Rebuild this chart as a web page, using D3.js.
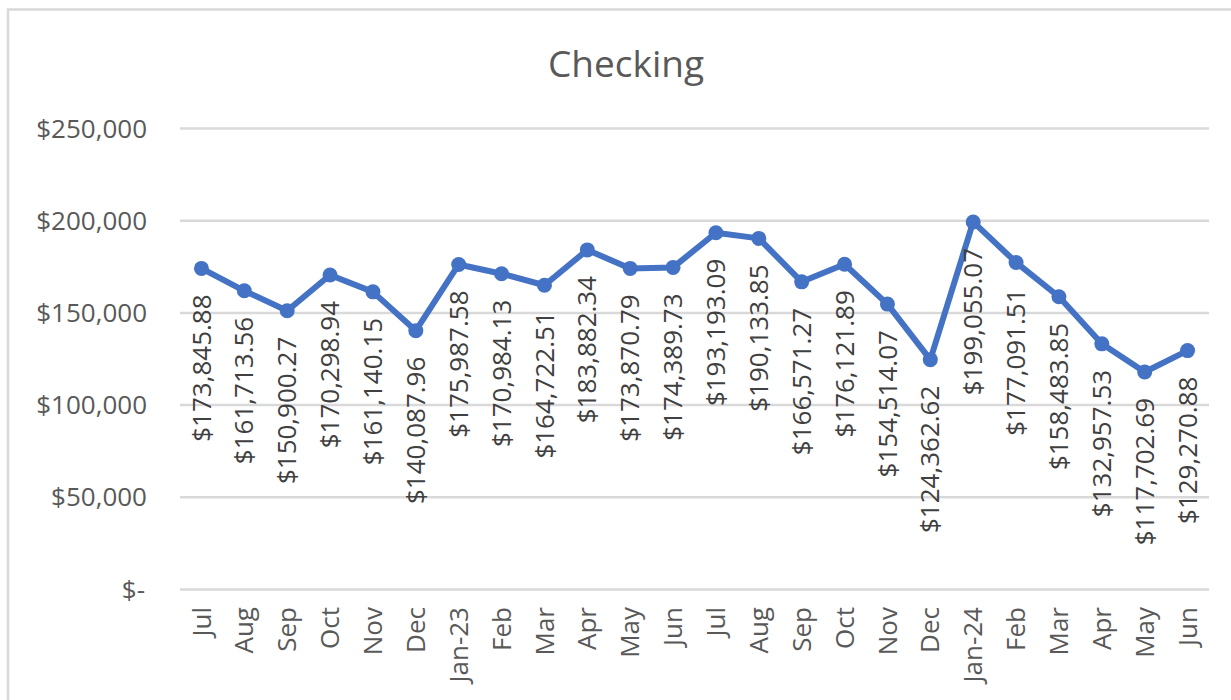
<!DOCTYPE html>
<html>
<head>
<meta charset="utf-8">
<script src="https://cdn.jsdelivr.net/npm/d3@7"></script>
<style>
  html, body { margin: 0; padding: 0; background: #ffffff; }
  svg { display: block; }
  text { font-family: "Open Sans", "Noto Sans", sans-serif; }
</style>
</head>
<body>
<svg id="chart" width="1231" height="700"></svg>
<script>
const title = "Checking";
const categories = ["Jul","Aug","Sep","Oct","Nov","Dec","Jan-23","Feb","Mar","Apr","May","Jun",
                    "Jul","Aug","Sep","Oct","Nov","Dec","Jan-24","Feb","Mar","Apr","May","Jun"];
const values = [173845.88, 161713.56, 150900.27, 170298.94, 161140.15, 140087.96, 175987.58, 170984.13,
                164722.51, 183882.34, 173870.79, 174389.73, 193193.09, 190133.85, 166571.27, 176121.89,
                154514.07, 124362.62, 199055.07, 177091.51, 158483.85, 132957.53, 117702.69, 129270.88];
const yTicks = [0, 50000, 100000, 150000, 200000, 250000];

const svg = d3.select("#chart");
const W = 1231, H = 700;
const plot = { left: 180, right: 1209, top: 128, bottom: 589 };

// frame
svg.append("rect")
  .attr("x", 8).attr("y", 9.5)
  .attr("width", 1240).attr("height", 720)
  .attr("fill", "#ffffff")
  .attr("stroke", "#d9d9d9").attr("stroke-width", 2.5);

const x = d3.scaleBand()
  .domain(d3.range(categories.length))
  .range([plot.left, plot.right])
  .padding(0);
const y = d3.scaleLinear().domain([0, 250000]).range([plot.bottom, plot.top]);
const cx = i => x(i) + x.bandwidth() / 2;

// gridlines
const yAxis = d3.axisLeft(y)
  .tickValues(yTicks)
  .tickSize(-(plot.right - plot.left))
  .tickPadding(33)
  .tickFormat(d => d === 0 ? "$-" : "$" + d3.format(",")(d));
const gy = svg.append("g").attr("transform", `translate(${plot.left},0)`).call(yAxis);
gy.select(".domain").remove();
gy.selectAll(".tick line").attr("stroke", "#d9d9d9").attr("stroke-width", 2.5);
gy.selectAll(".tick text")
  .attr("fill", "#595959")
  .attr("font-size", 26)
  .attr("dy", "0.35em")
  .attr("x", -33)
  .attr("dx", d => d === 0 ? -2 : 0);

// x axis labels
const xAxis = d3.axisBottom(x).tickSize(0).tickFormat(i => categories[i]);
const gx = svg.append("g").attr("transform", `translate(0,${plot.bottom})`).call(xAxis);
gx.select(".domain").remove();
gx.selectAll(".tick text")
  .attr("fill", "#595959")
  .attr("font-size", 26)
  .attr("text-anchor", "end")
  .attr("transform", "rotate(-90)")
  .attr("x", -18)
  .attr("y", 0)
  .attr("dy", "0.35em");

// line
const line = d3.line().x((d, i) => cx(i)).y(d => y(d));
svg.append("path")
  .datum(values)
  .attr("fill", "none")
  .attr("stroke", "#4472C4")
  .attr("stroke-width", 6)
  .attr("stroke-linejoin", "round")
  .attr("d", line);

svg.append("g").selectAll("circle")
  .data(values)
  .join("circle")
  .attr("cx", (d, i) => cx(i))
  .attr("cy", d => y(d))
  .attr("r", 7.5)
  .attr("fill", "#4472C4");

// data labels
svg.append("g").selectAll("text")
  .data(values)
  .join("text")
  .attr("transform", (d, i) => `translate(${cx(i)},${y(d) + 26}) rotate(-90)`)
  .attr("text-anchor", "end")
  .attr("dy", "0.35em")
  .attr("font-size", 26)
  .attr("fill", "#404040")
  .text(d => "$" + d3.format(",.2f")(d));

// title
svg.append("text")
  .attr("x", 626).attr("y", 77)
  .attr("text-anchor", "middle")
  .attr("font-size", 37)
  .attr("fill", "#595959")
  .text(title);
</script>
</body>
</html>
